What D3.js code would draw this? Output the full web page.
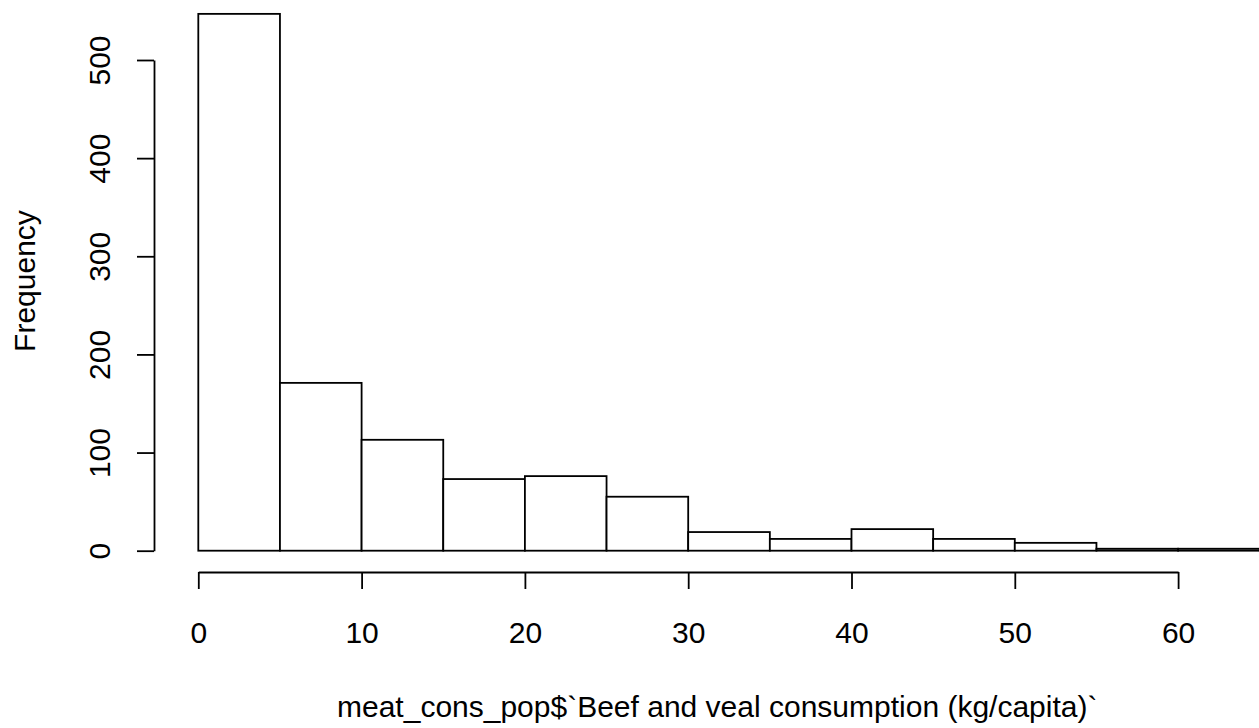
<!DOCTYPE html>
<html>
<head>
<meta charset="utf-8">
<script src="https://cdn.jsdelivr.net/npm/d3@7"></script>
<style>
  html, body { margin: 0; padding: 0; background: #fff; }
  svg { display: block; }
  text { font-family: "Liberation Sans", Arial, sans-serif; fill: #000; }
</style>
</head>
<body>
<svg id="chart" width="1259" height="728"></svg>
<script>
// ---- data ----
const breaks = [0, 5, 10, 15, 20, 25, 30, 35, 40, 45, 50, 55, 60, 65, 70];
const counts = [547, 171, 113, 73, 76, 55, 19, 12, 22, 12, 8, 2, 2, 1];
const xTicks = [0, 10, 20, 30, 40, 50, 60];
const yTicks = [0, 100, 200, 300, 400, 500];
const xLabel = "meat_cons_pop$`Beef and veal consumption (kg/capita)`";
const yLabel = "Frequency";

const bins = counts.map((c, i) => ({ x0: breaks[i], x1: breaks[i + 1], count: c }));

const svg = d3.select("#chart");
const FONT = 30;

const x = d3.scaleLinear().domain([0, 60]).range([198.3, 1178.1]);
const y = d3.scaleLinear().domain([0, 500]).range([550.7, 60]);

// bars
svg.append("g")
  .selectAll("rect")
  .data(bins)
  .join("rect")
  .attr("x", d => x(d.x0))
  .attr("y", d => y(d.count))
  .attr("width", d => x(d.x1) - x(d.x0))
  .attr("height", d => y(0) - y(d.count))
  .attr("fill", "#fff")
  .attr("stroke", "#000")
  .attr("stroke-width", 1.8);

// x axis
const xAxisY = 572;
const gx = svg.append("g")
  .attr("transform", `translate(0,${xAxisY})`)
  .call(d3.axisBottom(x).tickValues(xTicks).tickSize(17).tickSizeOuter(0).tickPadding(33).tickFormat(d3.format("d")));
gx.selectAll("path, line").attr("stroke", "#000").attr("stroke-width", 1.8);
gx.selectAll("text").attr("font-size", FONT).attr("font-family", "Liberation Sans, Arial, sans-serif").attr("fill", "#000");

// y axis
const yAxisX = 154;
const gy = svg.append("g")
  .attr("transform", `translate(${yAxisX},0)`)
  .call(d3.axisLeft(y).tickValues(yTicks).tickSize(17).tickSizeOuter(0).tickFormat(d3.format("d")));
gy.selectAll("path, line").attr("stroke", "#000").attr("stroke-width", 1.8);
gy.selectAll("text")
  .attr("font-size", FONT)
  .attr("font-family", "Liberation Sans, Arial, sans-serif")
  .attr("fill", "#000")
  .attr("x", null).attr("dy", null).attr("y", null)
  .attr("text-anchor", "middle")
  .attr("transform", "translate(-44,0) rotate(-90)");

// axis titles
svg.append("text")
  .attr("x", 337).attr("y", 717)
  .attr("font-size", FONT)
  .attr("text-anchor", "start")
  .text(xLabel);

svg.append("text")
  .attr("transform", "translate(35,281) rotate(-90)")
  .attr("font-size", FONT)
  .attr("text-anchor", "middle")
  .text(yLabel);
</script>
</body>
</html>
